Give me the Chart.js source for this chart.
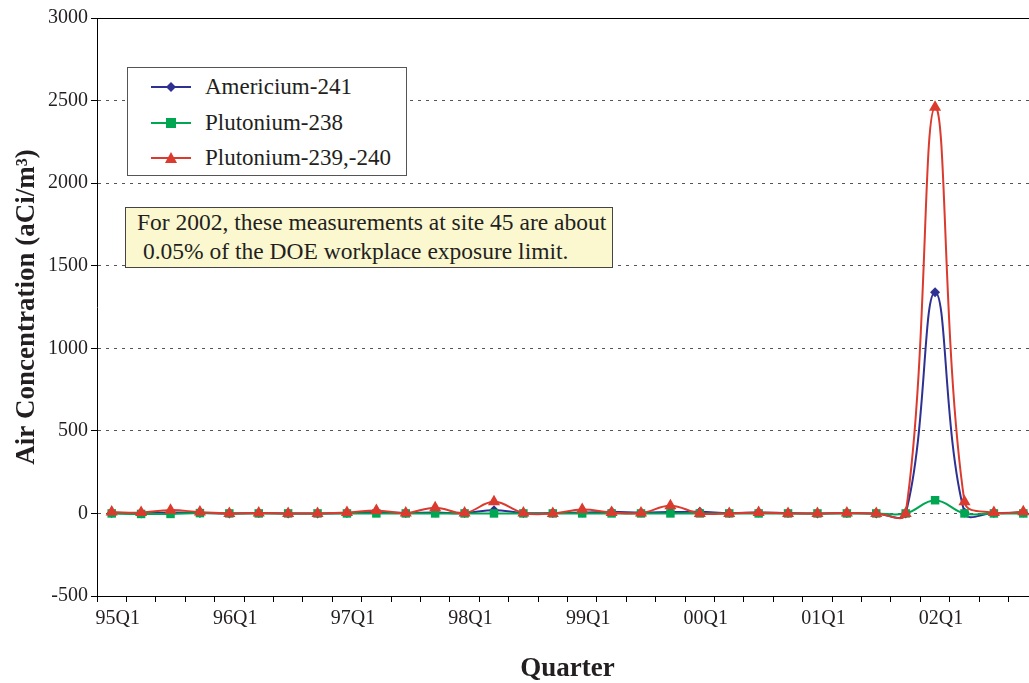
<!DOCTYPE html>
<html>
<head>
<meta charset="utf-8">
<script src="https://cdn.jsdelivr.net/npm/chart.js@4"></script>
<style>
    html, body { margin: 0; padding: 0; background: #fff; overflow: hidden; }
    #wrap { position: relative; width: 1045px; height: 683px; }
    .box { position: absolute; font-family: "Liberation Serif", "Times New Roman", serif; color: #231f20; }
    #legend { left: 127px; top: 67px; width: 278px; height: 107px; border: 1px solid #555; background: #fff; }
    .row { position: absolute; left: 22px; height: 30px; display: flex; align-items: center; font-size: 23px; }
    .row svg { margin-right: 13px; }
    #note { left: 125px; top: 207px; width: 486px; height: 59px; border: 1px solid #444; background: #fbf8d0; font-size: 23.5px; line-height: 30px; }
    #note div { position: absolute; white-space: pre; }
</style>
</head>
<body>
<div id="wrap">
    <canvas id="airChart" width="1045" height="683"></canvas>
    <div id="legend" class="box">
        <div class="row" style="top:4px"><svg width="42" height="14"><line x1="1" y1="7" x2="41" y2="7" stroke="#2e3192" stroke-width="2"/><polygon points="21,2 26,7 21,12 16,7" fill="#2e3192"/></svg>Americium-241</div>
        <div class="row" style="top:40px"><svg width="42" height="14"><line x1="1" y1="7" x2="41" y2="7" stroke="#00a651" stroke-width="2"/><rect x="16" y="2" width="10" height="10" fill="#00a651"/></svg>Plutonium-238</div>
        <div class="row" style="top:75px"><svg width="42" height="14"><line x1="1" y1="7" x2="41" y2="7" stroke="#da3b2e" stroke-width="2"/><polygon points="21,1 27,12 15,12" fill="#da3b2e"/></svg>Plutonium-239,-240</div>
    </div>
    <div id="note" class="box">
        <div style="left:11px; top:-1px">For 2002, these measurements at site 45 are about</div>
        <div style="left:11px; top:28px"> 0.05% of the DOE workplace exposure limit.</div>
    </div>
</div>
<script>
// ===== Data =====
const quarters = [
    '95Q1', '95Q2', '95Q3', '95Q4', '96Q1', '96Q2', '96Q3', '96Q4',
    '97Q1', '97Q2', '97Q3', '97Q4', '98Q1', '98Q2', '98Q3', '98Q4',
    '99Q1', '99Q2', '99Q3', '99Q4', '00Q1', '00Q2', '00Q3', '00Q4',
    '01Q1', '01Q2', '01Q3', '01Q4', '02Q1', '02Q2', '02Q3', '02Q4'
];
const americium241 = [2, 0, 5, 3, 0, 2, 0, 0, 3, 8, 2, 5, 2, 20, 2, 3, 5, 10, 5, 8, 10, 2, 5, 2, 0, 3, 0, 0, 1340, 5, 2, 5];
const plutonium238 = [0, -3, -3, 2, 0, 0, 0, 0, 0, 0, 0, 0, 0, 0, 0, 0, 0, 0, 0, 0, 0, 0, 0, 0, 0, 0, 0, 0, 80, 0, 0, 0];
const plutonium239 = [8, 5, 20, 8, 0, 3, 0, 0, 5, 18, 2, 35, 3, 70, 3, 0, 24, 6, 2, 46, 0, 0, 5, 0, 0, 3, 0, 0, 2460, 70, 5, 10];
const yTicks = [-500, 0, 500, 1000, 1500, 2000, 2500, 3000];

const colors = {
    blue: '#2e3192',
    green: '#00a651',
    red: '#da3b2e',
    text: '#231f20'
};

const serif = '"Liberation Serif", "Times New Roman", serif';

new Chart(document.getElementById('airChart'), {
    type: 'line',
    data: {
        labels: quarters,
        datasets: [
            {
                label: 'Plutonium-239,-240',
                data: plutonium239,
                borderColor: colors.red,
                backgroundColor: colors.red,
                pointStyle: 'triangle',
                pointRadius: 7,
                order: 1
            },
            {
                label: 'Plutonium-238',
                data: plutonium238,
                borderColor: colors.green,
                backgroundColor: colors.green,
                pointStyle: 'rect',
                pointRadius: 6,
                order: 2
            },
            {
                label: 'Americium-241',
                data: americium241,
                borderColor: colors.blue,
                backgroundColor: colors.blue,
                pointStyle: 'rectRot',
                pointRadius: 5,
                order: 3
            }
        ]
    },
    options: {
        responsive: false,
        animation: false,
        devicePixelRatio: 1,
        layout: { padding: { top: 18, right: 6, left: 0, bottom: 0 } },
        elements: {
            line: { borderWidth: 2, tension: 0.4, fill: false },
            point: { borderWidth: 0, hoverRadius: 7 }
        },
        plugins: {
            legend: { display: false },
            tooltip: { enabled: false }
        },
        scales: {
            x: {
                offset: true,
                grid: {
                    offset: true,
                    drawOnChartArea: false,
                    drawTicks: true,
                    tickLength: 6,
                    tickColor: '#000',
                    color: '#000'
                },
                border: { display: true, color: '#000', width: 1 },
                ticks: {
                    autoSkip: false,
                    maxRotation: 0,
                    padding: 5,
                    labelOffset: 6,
                    color: colors.text,
                    font: { family: serif, size: 20 },
                    callback: function(value, index) {
                        return index % 4 === 0 ? quarters[index] : '';
                    }
                },
                title: {
                    display: true,
                    text: 'Quarter',
                    color: colors.text,
                    font: { family: serif, size: 27, weight: 'bold', lineHeight: 1 },
                    padding: { top: 0, bottom: 0 }
                },
                afterFit: function(scale) {
                    scale.height = 87;
                }
            },
            y: {
                min: -500,
                max: 3000,
                afterBuildTicks: function(scale) {
                    scale.ticks = yTicks.map(v => ({ value: v }));
                },
                grid: {
                    drawTicks: true,
                    tickLength: 6,
                    tickColor: '#000',
                    tickBorderDash: [],
                    color: function(ctx) {
                        if (!ctx.tick) return '#555';
                        if (ctx.tick.value === 3000) return '#000';
                        if (ctx.tick.value === -500) return 'rgba(0,0,0,0)';
                        return '#555';
                    }
                },
                border: {
                    display: true,
                    color: '#000',
                    width: 1,
                    dash: function(ctx) {
                        return ctx.tick && ctx.tick.value === 3000 ? [] : [3, 5];
                    }
                },
                ticks: {
                    padding: 3,
                    color: colors.text,
                    font: { family: serif, size: 20 },
                    callback: function(value) {
                        return String(value);
                    }
                },
                title: {
                    display: true,
                    text: 'Air Concentration (aCi/m³)',
                    color: colors.text,
                    font: { family: serif, size: 27, weight: 'bold' },
                    padding: { top: 11, bottom: 0 }
                },
                afterFit: function(scale) {
                    scale.width = 97;
                }
            }
        }
    }
});
</script>
</body>
</html>
